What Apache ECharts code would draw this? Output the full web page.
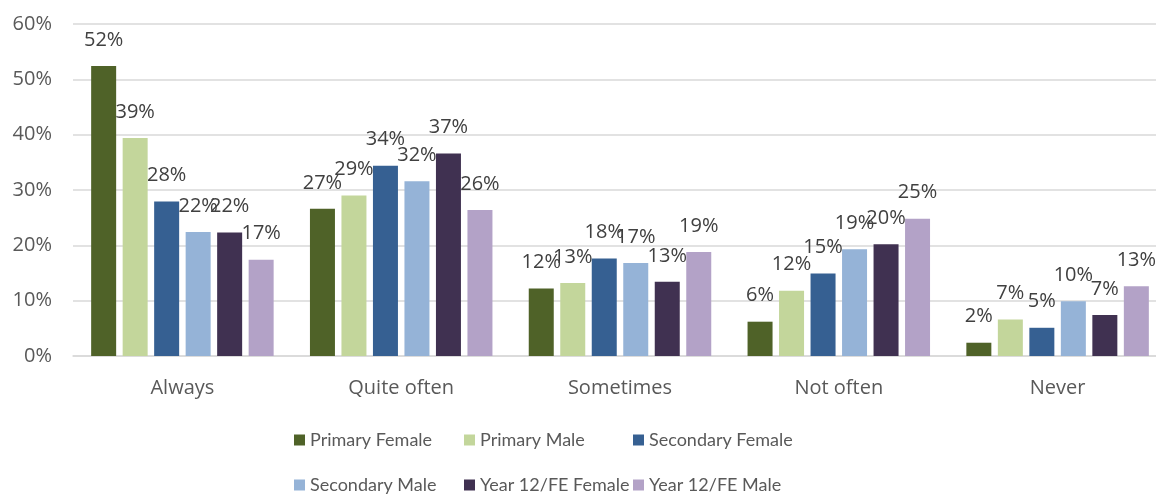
<!DOCTYPE html>
<html>
<head>
<meta charset="utf-8">
<script src="https://cdn.jsdelivr.net/npm/echarts@6/dist/echarts.min.js"></script>
<style>
html,body{margin:0;padding:0;background:#fff;}
#chart{width:1156px;height:495px;}
</style>
</head>
<body>
<div id="chart"></div>
<script>
const categories = ['Always', 'Quite often', 'Sometimes', 'Not often', 'Never'];
const seriesNames = ['Primary Female', 'Primary Male', 'Secondary Female', 'Secondary Male', 'Year 12/FE Female', 'Year 12/FE Male'];
const primaryFemale   = [52.4, 26.6, 12.2, 6.2, 2.4];
const primaryMale     = [39.4, 29.0, 13.2, 11.8, 6.6];
const secondaryFemale = [27.9, 34.4, 17.6, 14.9, 5.1];
const secondaryMale   = [22.4, 31.6, 16.8, 19.3, 9.9];
const year12Female    = [22.3, 36.6, 13.4, 20.2, 7.4];
const year12Male      = [17.4, 26.4, 18.8, 24.8, 12.6];
const yTicks = [0, 10, 20, 30, 40, 50, 60];

const colors = ['#4F6228', '#C3D69B', '#366092', '#95B3D7', '#403151', '#B3A2C7'];
const allValues = [primaryFemale, primaryMale, secondaryFemale, secondaryMale, year12Female, year12Male];
const FONT = 'Open Sans';
const LEGEND_FONT = 'Lato';

const chart = echarts.init(document.getElementById('chart'));
const series = seriesNames.map((name, i) => ({
  name: name,
  type: 'bar',
  data: allValues[i],
  barWidth: 25,
  barGap: '26%',
  itemStyle: { color: colors[i] },
  label: {
    show: true,
    position: 'top',
    distance: 16,
    formatter: p => Math.round(p.value) + '%',
    color: '#404040',
    fontSize: 20,
    fontFamily: FONT
  }
}));

const legendLefts = [289, 459, 628, 289, 459, 628];
const legendTops = [426, 426, 426, 471, 471, 471];
const legends = seriesNames.map((name, i) => ({
  data: [name],
  left: legendLefts[i],
  top: legendTops[i],
  icon: 'rect',
  itemWidth: 11,
  itemHeight: 11,
  textStyle: { color: '#595959', fontSize: 18, fontFamily: LEGEND_FONT },
  selectedMode: false
}));

chart.setOption({
  animation: false,
  color: colors,
  grid: { left: 73, width: 1094, top: 24, bottom: 139, containLabel: false, outerBoundsMode: 'none' },
  legend: legends,
  xAxis: {
    type: 'category',
    data: categories,
    axisLine: { show: true, lineStyle: { color: '#D9D9D9', width: 1.5 } },
    axisTick: { show: false },
    axisLabel: { color: '#595959', fontSize: 20, fontFamily: FONT, margin: 22 }
  },
  yAxis: {
    type: 'value',
    min: yTicks[0],
    max: yTicks[yTicks.length - 1],
    interval: 10,
    axisLine: { show: false },
    axisTick: { show: false },
    splitLine: { lineStyle: { color: '#D9D9D9', width: 1.5 } },
    axisLabel: { color: '#595959', fontSize: 20, fontFamily: FONT, margin: 21, formatter: v => v + '%' }
  },
  series: series
});
</script>
</body>
</html>
